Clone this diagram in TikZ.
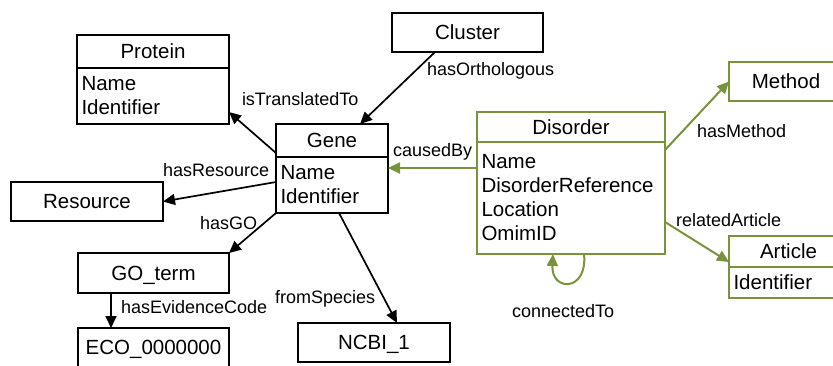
\documentclass[tikz,border=0pt]{standalone}
\usepackage{fontspec}
\setmainfont{Liberation Sans}
\usetikzlibrary{arrows.meta,calc}
\definecolor{disgreen}{HTML}{77933C}
\newcommand\clsfont{\fontsize{20.5}{24}\selectfont}
\newcommand\relfont{\fontsize{18}{20}\selectfont}
\begin{document}
\begin{tikzpicture}[x=1pt,y=-1pt,
  every node/.style={inner sep=0pt,outer sep=0pt},
  cls/.style={draw,line width=1.6pt,rectangle,anchor=north west,font=\clsfont,
    text height=14.7pt,text depth=0pt},
  attrs/.style={draw,line width=1.6pt,rectangle,anchor=north west,font=\clsfont,
    align=left,inner xsep=4.5pt},
  grn/.style={draw=disgreen,line width=2.2pt},
  rel/.style={font=\relfont,anchor=base west},
  link/.style={line width=1.7pt,-{Triangle[length=12pt,width=11pt]}},
  glink/.style={link,draw=disgreen,line width=2pt}
]
\useasboundingbox (0,0) rectangle (833,365);

% classes on the gene side
\node[cls,minimum width=152,minimum height=33] (protein) at (77,35) {Protein};
\node[attrs,text width=143,minimum height=56] (proteinattr) at (77,68) {Name\\Identifier};
\node[cls,minimum width=112,minimum height=33] (gene) at (276,124) {Gene};
\node[attrs,text width=103,minimum height=56] (geneattr) at (276,157) {Name\\Identifier};
\node[cls,minimum width=152,minimum height=39] (resource) at (11,182) {Resource};
\node[cls,minimum width=151,minimum height=40] (goterm) at (78,253) {GO\_term};
\node[cls,minimum width=151,minimum height=39] (eco) at (78,328) {ECO\_0000000};
\node[cls,minimum width=152,minimum height=39] (ncbi) at (298,323) {NCBI\_1};
\node[cls,minimum width=151,minimum height=39] (cluster) at (392,13) {Cluster};

% classes on the disorder side
\node[cls,grn,minimum width=188,minimum height=30] (disorder) at (477,112) {Disorder};
\node[attrs,grn,text width=179,minimum height=112] (disorderattr) at (477,142)
  {Name\\DisorderReference\\Location\\OmimID};
\node[cls,grn,minimum width=114,minimum height=39] (method) at (729,62) {Method};
\node[cls,grn,minimum width=119,minimum height=31] (article) at (729,236) {Article};
\node[attrs,grn,text width=110,minimum height=31] (articleattr) at (729,267) {Identifier};

% relations
\draw[link] ($(cluster.south west)+(43,0)$) -- ($(gene.north west)+(84,0)$);
\draw[link] ($(gene.north west)+(0,29)$) -- ($(proteinattr.south east)+(0,-12)$);
\draw[link] ($(geneattr.north west)+(0,25)$) -- (resource.east);
\draw[link] (geneattr.south west) -- (goterm.north east);
\draw[link] ($(geneattr.south west)+(63,0)$) -- ($(ncbi.north west)+(99,0)$);
\draw[link] ($(goterm.south west)+(33,0)$) -- ($(eco.north west)+(33,0)$);
\draw[glink] ($(disorderattr.north west)+(0,26)$) -- ($(geneattr.north east)+(0,11)$);
\draw[glink] ($(disorderattr.north east)+(0,8)$) -- (method.west);
\draw[glink] ($(disorderattr.north east)+(0,80)$) -- ($(article.south west)+(0,-5)$);
\coordinate (loopout) at ($(disorderattr.south west)+(107,0)$);
\coordinate (loopin) at ($(disorderattr.south west)+(76,0)$);
\draw[glink] (loopout) .. controls ($(loopout)+(4,38)$) and ($(loopin)+(-2,38)$) .. (loopin);

% relation labels
\node[rel] (lblTranslated) at (242,105) {isTranslatedTo};
\node[rel] (lblOrtho) at (427,75) {hasOrthologous};
\node[rel] (lblResource) at (163,176) {hasResource};
\node[rel] (lblGO) at (200,229) {hasGO};
\node[rel] (lblEvidence) at (121,313) {hasEvidenceCode};
\node[rel] (lblSpecies) at (275,303) {fromSpecies};
\node[rel] (lblCaused) at (393,156) {causedBy};
\node[rel] (lblMethod) at (697,137) {hasMethod};
\node[rel] (lblArticle) at (676,226) {relatedArticle};
\node[rel] (lblConnected) at (512,317) {connectedTo};
\end{tikzpicture}
\end{document}
